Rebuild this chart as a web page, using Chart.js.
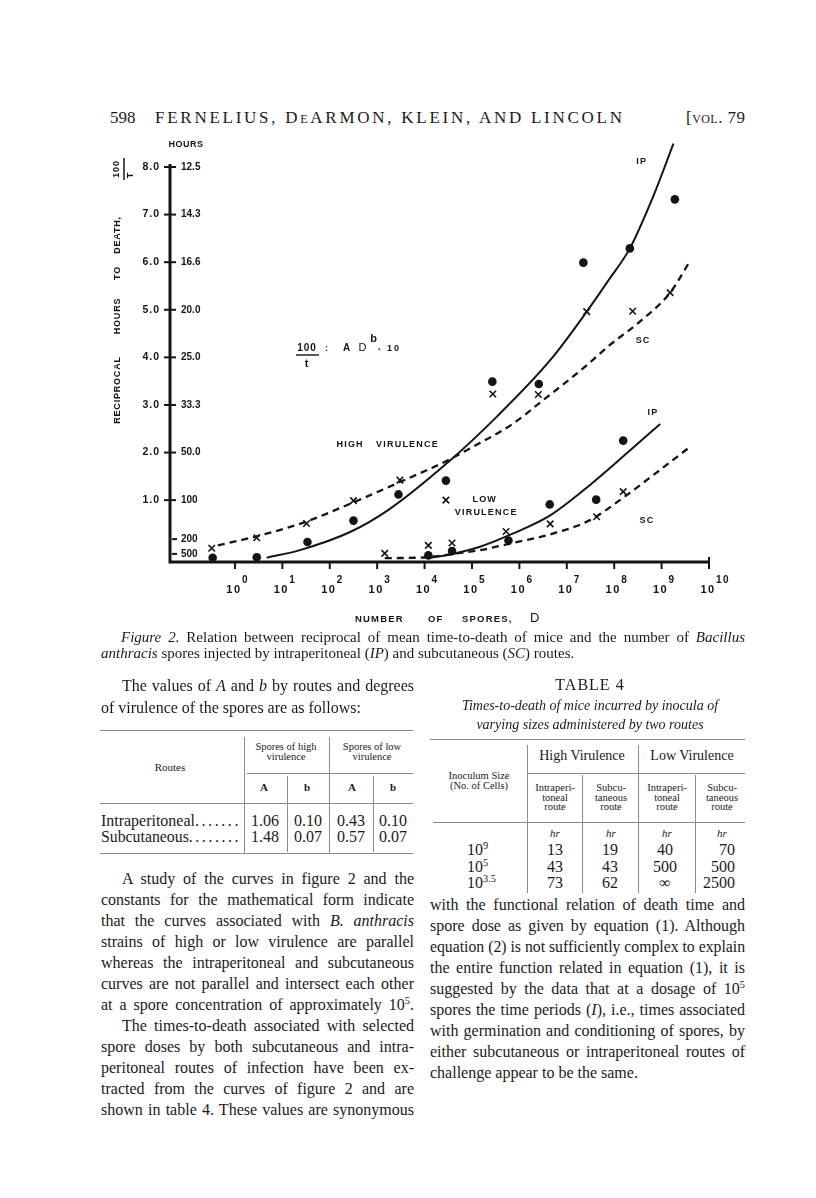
<!DOCTYPE html>
<html>
<head>
<meta charset="utf-8">
<title>Figure 2 - reciprocal of time-to-death</title>
<script src="https://cdn.jsdelivr.net/npm/chart.js"></script>
<style>
  body { margin: 0; background: #fff; }
  #page { position: relative; width: 816px; height: 1198px; overflow: hidden;
          font-family: 'Liberation Serif', 'DejaVu Serif', serif; color: #1a1a1a; }
  .ln { position: absolute; white-space: nowrap; font-size: 16px; line-height: 20px; height: 20px;
        transform-origin: left center; }
  .sm { font-size: 11px; }
  .xs { font-size: 10.5px; }
  .md { font-size: 14px; }
  .cap { font-size: 15px; }
  .hd { font-size: 17px; }
  .sc { font-variant: small-caps; }
  .rule { position: absolute; background: #8a8a8a; }
  sup { font-size: 65%; line-height: 0; }
  #fig { position: absolute; left: 100px; top: 130px; }
</style>
</head>
<body>
<div id="page">
  <canvas id="fig" width="650" height="500"></canvas>
</div>

<script>
// ---- data (x = log10 of spore count, y = 100/t) ----
const exps = [0, 1, 2, 3, 4, 5, 6, 7, 8, 9, 10];
const leftTickVals = [1, 2, 3, 4, 5, 6, 7, 8];
const leftTickLabels = ['1.0', '2.0', '3.0', '4.0', '5.0', '6.0', '7.0', '8.0'];
const rightTickVals = [8, 7, 6, 5, 4, 3, 2, 1, 0.18, -0.13];
const rightTickLabels = ['12.5', '14.3', '16.6', '20.0', '25.0', '33.3', '50.0', '100', '200', '500'];

// high virulence, intraperitoneal (dots) and subcutaneous (x)
const hipX = [-0.47, 0.46, 1.53, 2.50, 3.45, 4.45, 5.43, 6.41, 7.35, 8.33, 9.28];
const hipY = [-0.21, -0.20, 0.12, 0.57, 1.12, 1.41, 3.49, 3.44, 5.99, 6.29, 7.32];
const hscX = [-0.49, 0.46, 1.51, 2.50, 3.48, 4.45, 5.44, 6.40, 7.42, 8.39, 9.18];
const hscY = [-0.01, 0.21, 0.51, 0.99, 1.42, 1.00, 3.23, 3.22, 4.96, 4.97, 5.36];
// low virulence
const lipX = [4.08, 4.58, 5.77, 6.64, 7.62, 8.19];
const lipY = [-0.16, -0.07, 0.15, 0.91, 1.01, 2.25];
const lscX = [3.16, 4.08, 4.58, 5.72, 6.65, 7.63, 8.19];
const lscY = [-0.12, 0.05, 0.10, 0.34, 0.50, 0.65, 1.18];

// fitted curves as drawn
const hipCurveX = [0.67, 1.37, 2.43, 3.23, 4.50, 5.52, 6.65, 7.42, 7.88, 8.33, 8.83, 9.25];
const hipCurveY = [-0.21, -0.05, 0.33, 0.79, 1.80, 2.75, 3.94, 4.96, 5.62, 6.29, 7.40, 8.49];
const hscCurveX = [-0.36, 0.46, 1.51, 2.28, 3.48, 4.50, 4.89, 5.87, 6.50, 7.38, 7.91, 8.54, 9.18, 9.61];
const hscCurveY = [0.05, 0.24, 0.55, 0.86, 1.38, 1.84, 2.05, 2.61, 3.10, 3.80, 4.26, 4.75, 5.36, 6.04];
const lipCurveX = [4.08, 4.60, 5.17, 5.87, 6.65, 7.49, 8.26, 8.97];
const lipCurveY = [-0.22, -0.13, 0.02, 0.30, 0.68, 1.32, 1.98, 2.60];
const lscCurveX = [3.16, 4.05, 4.60, 5.17, 5.87, 6.72, 7.49, 8.12, 8.83, 9.60];
const lscCurveY = [-0.22, -0.20, -0.13, -0.05, 0.10, 0.30, 0.58, 1.00, 1.53, 2.12];

// labels written inside the plot (data units)
const plotLabels = [
  { t: 'IP', x: 8.58, y: 8.11 }, { t: 'SC', x: 8.61, y: 4.35 },
  { t: 'IP', x: 8.82, y: 2.85 }, { t: 'SC', x: 8.69, y: 0.57 },
  { t: 'HIGH', x: 2.43, y: 2.16 }, { t: 'VIRULENCE', x: 3.64, y: 2.16 },
  { t: 'LOW', x: 5.27, y: 1.01 }, { t: 'VIRULENCE', x: 5.30, y: 0.75 }
];

const ink = '#141414';
const sans = "'Liberation Sans', Arial, sans-serif";
const OX = 100, OY = 130; // canvas offset on the page

const pts = (xs, ys) => xs.map((v, i) => ({ x: v, y: ys[i] }));

function curve(xs, ys, dashed) {
  return {
    data: pts(xs, ys), showLine: true, pointRadius: 0, borderColor: ink,
    borderWidth: dashed ? 2.3 : 2, borderDash: dashed ? [7, 5] : [],
    cubicInterpolationMode: 'monotone', clip: false
  };
}
function marks(xs, ys, style) {
  return {
    data: pts(xs, ys), showLine: false, pointStyle: style,
    pointRadius: style === 'circle' ? 4.3 : 4.6, borderWidth: style === 'circle' ? 0 : 1.6,
    backgroundColor: ink, borderColor: ink, clip: false
  };
}

function txt(ctx, s, px, py, font, align) {
  ctx.font = font;
  ctx.textAlign = align || 'center';
  ctx.fillText(s, px - OX, py - OY);
}

const drawPaper = {
  id: 'drawPaper',
  afterDraw(chart) {
    const { ctx, chartArea: a, scales: { x, y } } = chart;
    ctx.save();
    ctx.strokeStyle = ink;
    ctx.fillStyle = ink;
    ctx.textBaseline = 'middle';

    // axes
    ctx.lineWidth = 3;
    ctx.beginPath();
    ctx.moveTo(a.left, y.getPixelForValue(8) - 3);
    ctx.lineTo(a.left, a.bottom);
    ctx.lineTo(x.getPixelForValue(10) + 1, a.bottom);
    ctx.stroke();

    // x ticks and labels 10^n
    ctx.lineWidth = 2;
    ctx.letterSpacing = '1.5px';
    exps.forEach(e => {
      const px = x.getPixelForValue(e);
      ctx.beginPath();
      ctx.moveTo(px, e === 10 ? a.bottom - 5 : a.bottom);
      ctx.lineTo(px, a.bottom + 7);
      ctx.stroke();
      ctx.font = `bold 11px ${sans}`;
      ctx.textAlign = 'center';
      ctx.fillText('10', px - 1, a.bottom + 28);
      ctx.font = `bold 10px ${sans}`;
      ctx.textAlign = 'left';
      ctx.fillText(String(e), px + 7, a.bottom + 18);
    });

    // y ticks
    ctx.letterSpacing = '0px';
    leftTickVals.forEach(v => {
      const py = y.getPixelForValue(v);
      ctx.beginPath();
      ctx.moveTo(a.left - 6, py);
      ctx.lineTo(a.left + 6, py);
      ctx.stroke();
    });
    rightTickVals.forEach(v => {
      if (leftTickVals.includes(v)) return;
      const py = y.getPixelForValue(v);
      ctx.beginPath();
      ctx.moveTo(a.left + 2, py);
      ctx.lineTo(a.left + 7, py);
      ctx.stroke();
    });
    ctx.font = `bold 10.5px ${sans}`;
    ctx.textAlign = 'right';
    ctx.letterSpacing = '1px';
    leftTickVals.forEach((v, i) => ctx.fillText(leftTickLabels[i], a.left - 10, y.getPixelForValue(v)));
    ctx.textAlign = 'left';
    ctx.letterSpacing = '0px';
    ctx.font = `bold 10px ${sans}`;
    rightTickVals.forEach((v, i) => ctx.fillText(rightTickLabels[i], a.left + 11, y.getPixelForValue(v)));
    ctx.letterSpacing = '0.5px';
    txt(ctx, 'HOURS', 186, 145, `bold 9px ${sans}`);

    // rotated y title
    const vword = (s, px, py, font) => {
      ctx.save();
      ctx.translate(px - OX, py - OY);
      ctx.rotate(-Math.PI / 2);
      ctx.font = font;
      ctx.textAlign = 'center';
      ctx.fillText(s, 0, 0);
      ctx.restore();
    };
    ctx.letterSpacing = '0.8px';
    [['RECIPROCAL', 390], ['HOURS', 316], ['TO', 273], ['DEATH,', 235]]
      .forEach(([s, py]) => vword(s, 118, py, `bold 9px ${sans}`));
    vword('100', 117, 169, `bold 9px ${sans}`);
    vword('T', 131, 175, `bold 9px ${sans}`);
    ctx.lineWidth = 1.5;
    ctx.beginPath();
    ctx.moveTo(124 - OX, 158 - OY);
    ctx.lineTo(124 - OX, 180 - OY);
    ctx.stroke();

    // x title
    ctx.letterSpacing = '1.2px';
    txt(ctx, 'NUMBER', 355, 619, `bold 9.5px ${sans}`, 'left');
    txt(ctx, 'OF', 428, 619, `bold 9.5px ${sans}`, 'left');
    txt(ctx, 'SPORES,', 462, 619, `bold 9.5px ${sans}`, 'left');
    ctx.letterSpacing = '0px';
    txt(ctx, 'D', 530, 618, `13px ${sans}`, 'left');

    // equation 100/t = A D^b . 10
    ctx.letterSpacing = '1px';
    txt(ctx, '100', 307, 348, `bold 10px ${sans}`);
    ctx.lineWidth = 1.4;
    ctx.beginPath();
    ctx.moveTo(296 - OX, 355 - OY);
    ctx.lineTo(319 - OX, 355 - OY);
    ctx.stroke();
    txt(ctx, 't', 307, 364, `bold 11px ${sans}`);
    txt(ctx, ':', 327, 349, `bold 9px ${sans}`);
    txt(ctx, 'A', 347, 348, `bold 10px ${sans}`);
    txt(ctx, 'D', 363, 348, `11px ${sans}`);
    txt(ctx, 'b', 374, 339, `bold 11px ${sans}`);
    txt(ctx, '.', 380, 347, `bold 10px ${sans}`);
    ctx.letterSpacing = '2px';
    txt(ctx, '10', 394, 349, `bold 9px ${sans}`);

    // in-plot labels
    ctx.letterSpacing = '1.2px';
    ctx.font = `bold 9px ${sans}`;
    ctx.textAlign = 'center';
    plotLabels.forEach(l => ctx.fillText(l.t, x.getPixelForValue(l.x), y.getPixelForValue(l.y)));
    ctx.restore();
  }
};

new Chart(document.getElementById('fig'), {
  type: 'scatter',
  data: {
    datasets: [
      curve(hipCurveX, hipCurveY, false),
      curve(hscCurveX, hscCurveY, true),
      curve(lipCurveX, lipCurveY, false),
      curve(lscCurveX, lscCurveY, true),
      marks(hipX, hipY, 'circle'),
      marks(hscX, hscY, 'crossRot'),
      marks(lipX, lipY, 'circle'),
      marks(lscX, lscY, 'crossRot')
    ]
  },
  options: {
    responsive: false,
    animation: false,
    layout: { padding: { left: 70, top: 37, right: 41, bottom: 68 } },
    plugins: { legend: { display: false }, tooltip: { enabled: false } },
    scales: {
      x: { type: 'linear', min: -1.37, max: 10, display: false },
      y: { type: 'linear', min: -0.30, max: 8, display: false }
    }
  },
  plugins: [drawPaper]
});

// ---- page text ----
const page = document.getElementById('page');
function put(x, yc, html, mode, w, cls) {
  const d = document.createElement('div');
  d.className = 'ln' + (cls ? ' ' + cls : '');
  d.innerHTML = html;
  page.appendChild(d);
  const nat = d.getBoundingClientRect().width;
  let left = x;
  if (mode === 'c') left = x - nat / 2;
  else if (mode === 'r') left = x - nat;
  else if ((mode === 'j' || mode === 's') && w) {
    if (nat > w) d.style.transform = `scaleX(${w / nat})`;
    else if (mode === 'j') {
      const n = (d.textContent.match(/ /g) || []).length;
      if (n) d.style.wordSpacing = ((w - nat) / n) + 'px';
    } else {
      d.style.letterSpacing = ((w - nat) / (d.textContent.length - 1)) + 'px';
    }
  }
  d.style.left = left + 'px';
  d.style.top = (yc - 10) + 'px';
}
function rule(x, y, w, h) {
  const d = document.createElement('div');
  d.className = 'rule';
  d.style.cssText = `left:${x}px;top:${y}px;width:${w}px;height:${h}px`;
  page.appendChild(d);
}

// running head
put(110, 118, '598', 'l', 0, 'hd');
put(155, 118, 'FERNELIUS, D<span class="sc">e</span>ARMON, KLEIN, AND LINCOLN', 's', 467, 'hd');
put(686, 118, '[<span class="sc">vol</span>. 79', 's', 59, 'hd');

// caption
put(121, 637, '<i>Figure 2.</i> Relation between reciprocal of mean time-to-death of mice and the number of <i>Bacillus</i>', 'j', 624, 'cap');
put(101, 653, '<i>anthracis</i> spores injected by intraperitoneal (<i>IP</i>) and subcutaneous (<i>SC</i>) routes.', 'l', 0, 'cap');

// left column
put(122, 686, 'The values of <i>A</i> and <i>b</i> by routes and degrees', 'j', 292);
put(101, 708, 'of virulence of the spores are as follows:', 'l');

rule(100, 730, 313, 1); rule(247, 773, 166, 1); rule(100, 803, 313, 1); rule(100, 853, 313, 1);
rule(244, 737, 1, 116); rule(329, 737, 1, 116); rule(287, 776, 1, 76); rule(373, 776, 1, 76);
put(170, 767, 'Routes', 'c', 0, 'sm');
put(286, 747, 'Spores of high', 'c', 0, 'xs'); put(286, 757, 'virulence', 'c', 0, 'xs');
put(372, 747, 'Spores of low', 'c', 0, 'xs'); put(372, 757, 'virulence', 'c', 0, 'xs');
put(264, 787, '<b>A</b>', 'c', 0, 'sm'); put(307, 787, '<b>b</b>', 'c', 0, 'sm');
put(352, 787, '<b>A</b>', 'c', 0, 'sm'); put(393, 787, '<b>b</b>', 'c', 0, 'sm');
put(101, 821, 'Intraperitoneal<span style="letter-spacing:2.6px">.......</span>', 's', 140);
put(101, 837, 'Subcutaneous<span style="letter-spacing:2.6px">........</span>', 's', 140);
[['1.06', '0.10', '0.43', '0.10', 821], ['1.48', '0.07', '0.57', '0.07', 837]].forEach(r => {
  put(265, r[4], r[0], 'c'); put(308, r[4], r[1], 'c'); put(351, r[4], r[2], 'c'); put(393, r[4], r[3], 'c');
});

const leftPara = [
  [122, 'A study of the curves in figure 2 and the'],
  [101, 'constants for the mathematical form indicate'],
  [101, 'that the curves associated with <i>B. anthracis</i>'],
  [101, 'strains of high or low virulence are parallel'],
  [101, 'whereas the intraperitoneal and subcutaneous'],
  [101, 'curves are not parallel and intersect each other'],
  [101, 'at a spore concentration of approximately 10<sup>5</sup>.'],
  [122, 'The times-to-death associated with selected'],
  [101, 'spore doses by both subcutaneous and intra-'],
  [101, 'peritoneal routes of infection have been ex-'],
  [101, 'tracted from the curves of figure 2 and are'],
  [101, 'shown in table 4. These values are synonymous']
];
leftPara.forEach(([x, s], i) => put(x, 879 + i * 21, s, 'j', 414 - x));

// right column: table 4
put(590, 685, '<span style="letter-spacing:1px">TABLE 4</span>', 'c');
put(590, 706, '<i>Times-to-death of mice incurred by inocula of</i>', 'c', 0, 'md');
put(590, 725, '<i>varying sizes administered by two routes</i>', 'c', 0, 'md');
rule(430, 739, 315, 1); rule(527, 773, 218, 1); rule(433, 822, 312, 1);
rule(527, 745, 1, 148); rule(638, 745, 1, 148); rule(582, 775, 1, 118); rule(695, 775, 1, 118);
put(582, 756, 'High Virulence', 'c', 0, 'md');
put(692, 756, 'Low Virulence', 'c', 0, 'md');
put(479, 776, 'Inoculum Size', 'c', 0, 'xs');
put(479, 786, '(No. of Cells)', 'c', 0, 'xs');
[[555, 'Intraperi-', 'toneal'], [611, 'Subcu-', 'taneous'], [667, 'Intraperi-', 'toneal'], [722, 'Subcu-', 'taneous']]
  .forEach(([cx, a, b]) => {
    put(cx, 788, a, 'c', 0, 'xs'); put(cx, 797.5, b, 'c', 0, 'xs'); put(cx, 807, 'route', 'c', 0, 'xs');
    put(cx, 833, '<i>hr</i>', 'c', 0, 'sm');
  });
[['10<sup>9</sup>', '13', '19', '40', '70', 850],
 ['10<sup>5</sup>', '43', '43', '500', '500', 867],
 ['10<sup>3.5</sup>', '73', '62', '\u221e', '2500', 883]].forEach(r => {
  put(467, r[5], r[0], 'l'); put(555, r[5], r[1], 'c'); put(610, r[5], r[2], 'c');
  put(665, r[5], r[3], 'c'); put(735, r[5], r[4], 'r');
});

const rightPara = [
  'with the functional relation of death time and',
  'spore dose as given by equation (1). Although',
  'equation (2) is not sufficiently complex to explain',
  'the entire function related in equation (1), it is',
  'suggested by the data that at a dosage of 10<sup>5</sup>',
  'spores the time periods (<i>I</i>), i.e., times associated',
  'with germination and conditioning of spores, by',
  'either subcutaneous or intraperitoneal routes of'
];
rightPara.forEach((s, i) => put(430, 905 + i * 21, s, 'j', 315));
put(430, 1073, 'challenge appear to be the same.', 'l');
</script>
</body>
</html>
